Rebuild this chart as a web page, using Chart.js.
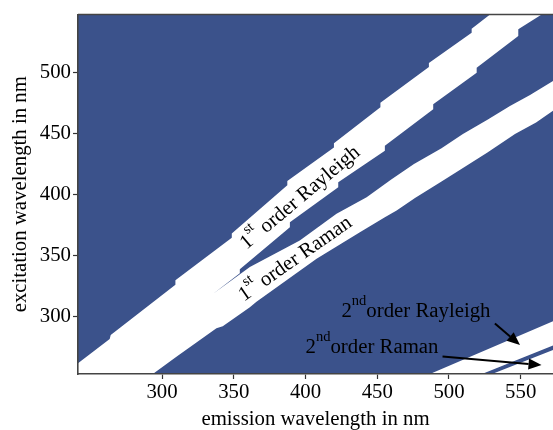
<!DOCTYPE html>
<html>
<head>
<meta charset="utf-8">
<script src="https://cdn.jsdelivr.net/npm/chart.js@4.4.1/dist/chart.umd.min.js"></script>
<style>
  html, body { margin: 0; padding: 0; background: #ffffff; }
  #wrap { width: 553px; height: 430px; }
</style>
</head>
<body>
<div id="wrap"><canvas id="eem" width="553" height="430"></canvas></div>
<script>
// Axis extents and tick values (nm)
const emissionRange = [241.4, 572.5];
const excitationRange = [253.2, 547.7];
const emissionTicks = [300, 350, 400, 450, 500, 550];
const excitationTicks = [300, 350, 400, 450, 500];

// Scatter-mask edges as [emission, excitation] vertices (nm)
const rayleigh1Upper = [[228, 250], [241.4, 262.0], [263.5, 281.8], [264.2, 285.1], [309.3, 326.4], [309.3, 330.0],
  [348.6, 364.8], [348.6, 368.3], [387.3, 407.8], [387.3, 411.3], [419.8, 438.8], [419.8, 442.2],
  [452.2, 471.8], [452.2, 475.3], [486.0, 504.7], [486.0, 507.9], [515.8, 532.8], [515.8, 536.1],
  [528.6, 547.7], [535, 553]];
const rayleigh1Lower = [[577, 558], [564.6, 547.7], [548.3, 535.5], [548.3, 530.0], [519.3, 504.1], [519.3, 500.0],
  [489.0, 474.2], [489.0, 470.1], [455.3, 440.2], [455.3, 436.1], [422.8, 410.2], [422.8, 406.1],
  [389.1, 377.6], [389.1, 373.5], [354.2, 339.0], [354.2, 335.7], [335.6, 319.0]];
const raman1Upper = [[335.6, 319.0], [361.2, 340.8], [396.0, 362.6], [421.6, 384.4], [442.6, 398.0], [459.5, 412.4],
  [475.6, 425.3], [494.8, 438.1], [509.7, 449.7], [526.8, 461.4], [542.5, 472.8], [556.5, 481.8],
  [572.5, 493.3], [590, 505]];
const raman1Lower = [[590, 481], [572.5, 468.8], [560.7, 459.2], [546.0, 449.7], [526.8, 434.7], [511.1, 423.0],
  [494.8, 410.8], [476.3, 397.3], [463.5, 387.1], [455.3, 381.7], [437.9, 369.4], [407.7, 347.7],
  [365.8, 312.3], [361.2, 307.9], [342.3, 292.4], [337.9, 290.6], [310.0, 267.4], [293.3, 253.0], [280, 242]];
const rayleigh2Upper = [[478, 249], [486.7, 253.2], [572.5, 296.5], [585, 302.5]];
const rayleigh2Lower = [[585, 282.5], [572.5, 276.5], [523.0, 253.2], [515, 249.5]];
const raman2Upper = [[522, 249.5], [530.0, 253.2], [572.5, 272.8], [585, 279]];
const raman2Lower = [[590, 279], [590, 249.5]];

// Band captions: text pieces ([text, superscript]), centre point (nm), rotation (deg)
const bandCaptions = [
  { parts: [['1', false], ['st', true], [' order Rayleigh', false]], at: [396, 398], rotation: 40 },
  { parts: [['1', false], ['st', true], [' order Raman', false]], at: [392.6, 347.9], rotation: 35 }
];
// Arrow notes: text start (nm), arrow tail and head (nm)
const arrowNotes = [
  { parts: [['2', false], ['nd', true], ['order Rayleigh', false]], text: [425, 300], tail: [532, 294.5], head: [549.5, 277] },
  { parts: [['2', false], ['nd', true], ['order Raman', false]], text: [400, 270.5], tail: [495.5, 267.5], head: [564.5, 260.5] }
];

const maskBlue = '#3b528b';
const serif = "'Liberation Serif', 'Times New Roman', serif";
const fontSize = 20.8;

const toXY = pts => pts.map(([x, y]) => ({ x, y }));
const firstOrderRegion = [...rayleigh1Upper, ...rayleigh1Lower, ...raman1Upper.slice(1), ...raman1Lower];
const secondRayleighRegion = [...rayleigh2Upper, ...rayleigh2Lower];
const secondRamanRegion = [...raman2Upper, ...raman2Lower];

const maskDataset = pts => ({
  data: toXY(pts),
  fill: 'shape',
  backgroundColor: '#ffffff',
  borderColor: 'rgba(0,0,0,0)',
  borderWidth: 0,
  pointRadius: 0,
  pointHoverRadius: 0,
  tension: 0
});

function drawRich(ctx, parts, x, y, angleRad, centred) {
  const supSize = fontSize * 0.7;
  const supRise = fontSize * 0.55;
  ctx.save();
  ctx.translate(x, y);
  ctx.rotate(angleRad);
  ctx.fillStyle = '#000';
  ctx.textAlign = 'left';
  ctx.textBaseline = 'alphabetic';
  const widths = parts.map(([t, sup]) => {
    ctx.font = (sup ? supSize : fontSize) + 'px ' + serif;
    return ctx.measureText(t).width;
  });
  const total = widths.reduce((a, b) => a + b, 0);
  let cx = centred ? -total / 2 : 0;
  const cy = centred ? fontSize * 0.3 : 0;
  parts.forEach(([t, sup], i) => {
    ctx.font = (sup ? supSize : fontSize) + 'px ' + serif;
    ctx.fillText(t, cx, sup ? cy - supRise : cy);
    cx += widths[i];
  });
  ctx.restore();
}

function drawArrow(ctx, x0, y0, x1, y1) {
  const ang = Math.atan2(y1 - y0, x1 - x0);
  const headLen = 13, headHalf = 5.5;
  const bx = x1 - headLen * Math.cos(ang), by = y1 - headLen * Math.sin(ang);
  ctx.save();
  ctx.strokeStyle = '#000';
  ctx.fillStyle = '#000';
  ctx.lineWidth = 2;
  ctx.beginPath();
  ctx.moveTo(x0, y0);
  ctx.lineTo(bx, by);
  ctx.stroke();
  ctx.beginPath();
  ctx.moveTo(x1, y1);
  ctx.lineTo(bx + headHalf * Math.sin(ang), by - headHalf * Math.cos(ang));
  ctx.lineTo(bx - headHalf * Math.sin(ang), by + headHalf * Math.cos(ang));
  ctx.closePath();
  ctx.fill();
  ctx.restore();
}

const plotBackground = {
  id: 'plotBackground',
  beforeDatasetsDraw(chart) {
    const { ctx, chartArea: a } = chart;
    ctx.save();
    ctx.fillStyle = maskBlue;
    ctx.fillRect(a.left, a.top, a.right - a.left, a.bottom - a.top);
    ctx.restore();
  }
};

const annotations = {
  id: 'annotations',
  afterDraw(chart) {
    const { ctx, chartArea: a } = chart;
    const xs = chart.scales.x, ys = chart.scales.y;
    const px = v => xs.getPixelForValue(v), py = v => ys.getPixelForValue(v);
    // top spine
    ctx.save();
    ctx.strokeStyle = '#444';
    ctx.lineWidth = 1.6;
    ctx.beginPath();
    ctx.moveTo(a.left, a.top);
    ctx.lineTo(a.right, a.top);
    ctx.stroke();
    ctx.restore();
    bandCaptions.forEach(c => {
      drawRich(ctx, c.parts, px(c.at[0]), py(c.at[1]), -c.rotation * Math.PI / 180, true);
    });
    arrowNotes.forEach(n => {
      drawRich(ctx, n.parts, px(n.text[0]), py(n.text[1]), 0, false);
      drawArrow(ctx, px(n.tail[0]), py(n.tail[1]), px(n.head[0]), py(n.head[1]));
    });
  }
};

const tickFont = { family: serif, size: fontSize };

new Chart(document.getElementById('eem'), {
  type: 'line',
  data: {
    datasets: [maskDataset(firstOrderRegion), maskDataset(secondRayleighRegion), maskDataset(secondRamanRegion)]
  },
  options: {
    responsive: false,
    devicePixelRatio: 1,
    animation: false,
    events: [],
    layout: { padding: { top: 13, right: 0, bottom: 0, left: 0 } },
    plugins: { legend: { display: false }, tooltip: { enabled: false } },
    scales: {
      x: {
        type: 'linear',
        min: emissionRange[0],
        max: emissionRange[1],
        afterBuildTicks: s => { s.ticks = emissionTicks.map(v => ({ value: v })); },
        afterFit: s => { s.height = 56; },
        ticks: { font: tickFont, color: '#000', padding: 1, maxRotation: 0, autoSkip: false },
        grid: { drawOnChartArea: false, drawTicks: true, tickLength: 5, tickWidth: 1.2, tickColor: '#333' },
        border: { display: true, color: '#444', width: 1.6, z: 1 },
        title: { display: true, text: 'emission wavelength in nm', color: '#000',
                 font: { family: serif, size: fontSize, lineHeight: 1 }, padding: { top: 0, bottom: 0 } }
      },
      y: {
        type: 'linear',
        min: excitationRange[0],
        max: excitationRange[1],
        afterBuildTicks: s => { s.ticks = excitationTicks.map(v => ({ value: v })); },
        afterFit: s => { s.width = 78; },
        ticks: { font: tickFont, color: '#000', padding: 2, autoSkip: false },
        grid: { drawOnChartArea: false, drawTicks: true, tickLength: 5, tickWidth: 1.2, tickColor: '#333' },
        border: { display: true, color: '#444', width: 1.6, z: 1 },
        title: { display: true, text: 'excitation wavelength in nm', color: '#000',
                 font: { family: serif, size: fontSize, lineHeight: 1 }, padding: { top: 10, bottom: 0 } }
      }
    }
  },
  plugins: [plotBackground, annotations]
});
</script>
</body>
</html>
